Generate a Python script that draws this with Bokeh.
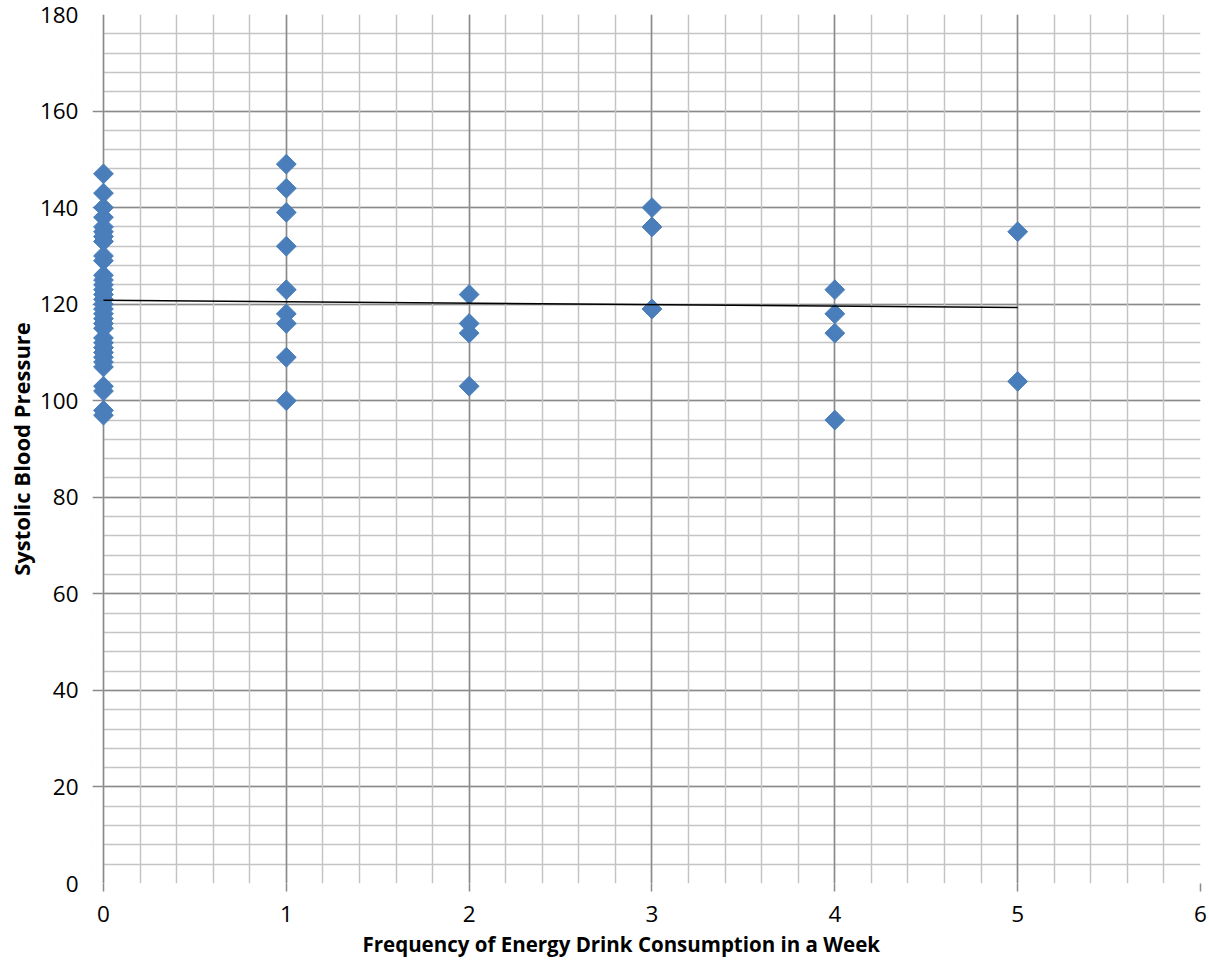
import math
from bokeh.plotting import figure
from bokeh.models import Range1d, FixedTicker, BoxAnnotation, Grid, Title
from bokeh.embed import file_html
from bokeh.resources import INLINE

# ---- data ----
bp_freq0 = [147, 143, 140, 138, 136, 135, 134, 133, 130, 129, 126, 125, 124, 123,
            122, 121, 120, 119, 118, 117, 116, 115, 113, 112, 111, 110, 109, 108,
            107, 103, 102, 98, 97]
bp_freq1 = [149, 144, 139, 132, 123, 118, 116, 109, 100]
bp_freq2 = [122, 116, 114, 103]
bp_freq3 = [140, 136, 119]
bp_freq4 = [123, 118, 114, 96]
bp_freq5 = [135, 104]

trend_x = [0, 5]
trend_y = [120.8, 119.3]

x_ticks = [0, 1, 2, 3, 4, 5, 6]
y_ticks = [0, 20, 40, 60, 80, 100, 120, 140, 160, 180]
x_minor = [i / 5 for i in range(0, 31)]
y_minor = [i * 4 for i in range(0, 46)]

x_title = "Frequency of Energy Drink Consumption in a Week"
y_title = "Systolic Blood Pressure"

groups = [bp_freq0, bp_freq1, bp_freq2, bp_freq3, bp_freq4, bp_freq5]
xs, ys = [], []
for f, vals in enumerate(groups):
    xs += [f] * len(vals)
    ys += vals

FONT = "Open Sans"
MAJOR = "#8a8a8a"
MINOR = "#c4c4c4"
BLUE = "#4a7ebb"

p = figure(width=1209, height=975, output_backend="svg", toolbar_location=None,
           x_range=Range1d(-0.06, 6), y_range=Range1d(0, 180),
           min_border_left=92, min_border_right=9, min_border_top=14,
           min_border_bottom=92)
p.outline_line_color = None
p.background_fill_color = "white"
p.border_fill_color = "white"

xt = FixedTicker(ticks=x_ticks, minor_ticks=x_minor)
yt = FixedTicker(ticks=y_ticks, minor_ticks=y_minor)

# vertical grid lines (x = 0 line doubles as the y axis line)
xgrid = Grid(dimension=0, ticker=xt, grid_line_color=MAJOR, grid_line_width=1.5,
             minor_grid_line_color=MINOR, minor_grid_line_width=1.5, level="image")
# horizontal minor grid lines
ygrid_minor = Grid(dimension=1, ticker=yt, grid_line_color=None,
                   minor_grid_line_color=MINOR, minor_grid_line_width=1.5, level="image")
# white strip hiding the minor stubs left of x = 0
strip = BoxAnnotation(left=-0.06, right=0, fill_color="white", fill_alpha=1,
                      line_color=None, level="image")
# horizontal major grid lines (their stubs left of x = 0 act as tick marks)
ygrid_major = Grid(dimension=1, ticker=yt, grid_line_color=MAJOR, grid_line_width=1.5,
                   minor_grid_line_color=None, level="image")
p.center = [ygrid_minor, strip, ygrid_major, xgrid]

for ax, t in ((p.xaxis, xt), (p.yaxis, yt)):
    ax.ticker = t
    ax.major_tick_in = 0
    ax.minor_tick_in = 0
    ax.minor_tick_out = 0
    ax.major_label_text_font = FONT
    ax.major_label_text_font_size = "22.5px"
    ax.major_label_text_color = "black"
    ax.axis_label_text_font = FONT
    ax.axis_label_text_font_style = "bold"
    ax.axis_label_text_color = "black"

p.xaxis.bounds = (0, 6)
p.xaxis.axis_line_color = None
p.xaxis.major_tick_line_color = MAJOR
p.xaxis.major_tick_line_width = 1.5
p.xaxis.major_tick_out = 8
p.xaxis.major_label_standoff = 14

p.yaxis.axis_line_color = None
p.yaxis.major_tick_line_color = None
p.yaxis.major_tick_out = 0
p.yaxis.axis_label = y_title
p.yaxis.axis_label_text_font_size = "22px"
p.yaxis.major_label_standoff = 14
p.yaxis.axis_label_standoff = 1

xlabel = Title(text=x_title, align="left", offset=270, text_font=FONT,
               text_font_style="bold", text_font_size="20.5px", text_color="black",
               standoff=6)
p.add_layout(xlabel, "below")

p.scatter(xs, ys, marker="square", size=14, angle=math.pi / 4,
          fill_color=BLUE, line_color=BLUE)
p.line(trend_x, trend_y, line_color="black", line_width=1.6)

open("out.html", "w").write(file_html(p, INLINE))
